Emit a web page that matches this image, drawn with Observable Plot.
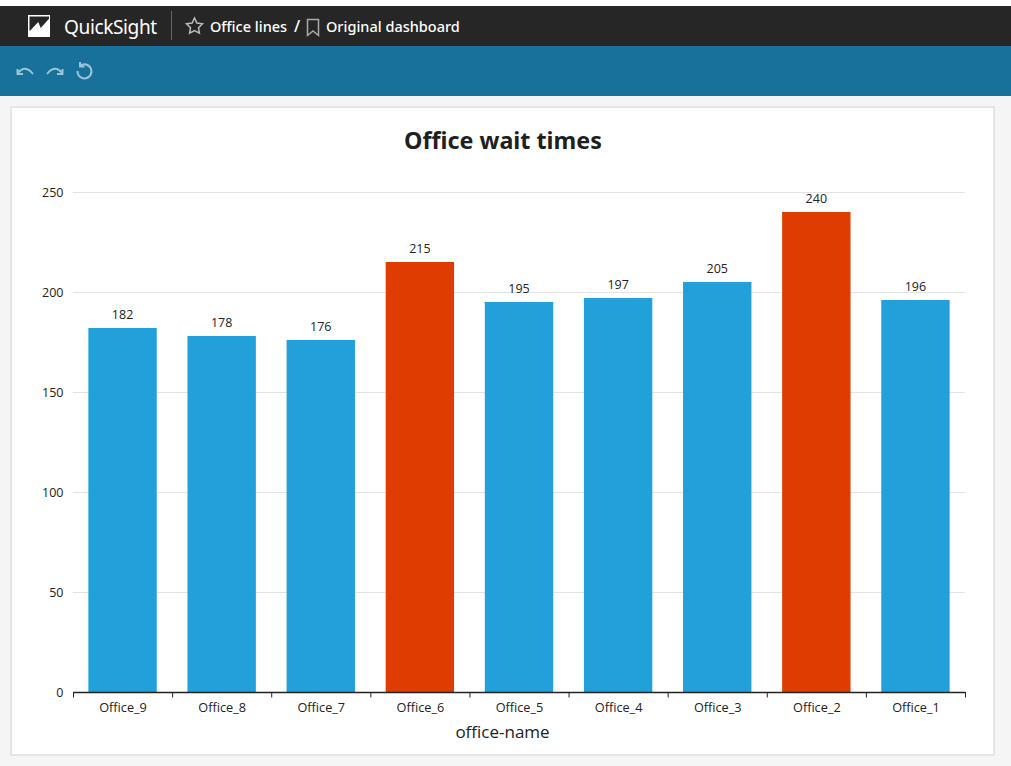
<!DOCTYPE html>
<html><head><meta charset="utf-8">
<script src="https://cdn.jsdelivr.net/npm/d3@7"></script>
<script src="https://cdn.jsdelivr.net/npm/@observablehq/plot@0.6"></script>
<style>
html,body{margin:0;padding:0;width:1011px;height:766px;overflow:hidden;background:#f5f5f5;font-family:"Open Sans",sans-serif}
.abs{position:absolute}
#top{left:0;top:0;width:1011px;height:6px;background:#fff}
#dark{left:0;top:6px;width:1011px;height:40px;background:#262626;color:#fff}
#teal{left:0;top:46px;width:1011px;height:50px;background:#18719b}
#card{left:10px;top:106px;width:981px;height:646px;background:#fff;border:2px solid #e5e5e5}
#title{left:0;top:124px;width:1006px;text-align:center;font:bold 23.3px/32px "Noto Sans",sans-serif;color:#1f1f1f}
#chart{left:0;top:160px}
.t{white-space:nowrap;position:absolute}
</style></head><body>
<div id="top" class="abs"></div>
<div id="dark" class="abs">
<svg class="abs" style="left:0;top:0" width="320" height="40" fill="none">
<path d="M28 9h22v22H28z" fill="#fff"/>
<path d="M29.500 10.500H49v2.200l-8.300 9.300-2.400-6-8.300 8.700h-.5z" fill="#262626"/>
<path d="M171.500 5v29" stroke="#666"/>
<path d="M194.500 12l2.400 5 5.600.8-4 3.900.9 5.500-4.900-2.600-4.900 2.600.9-5.500-4-3.900 5.600-.8z" stroke="#bbb" stroke-width="1.500"/>
<path d="M307.500 13.500h11v16l-5.500-4.500-5.500 4.500z" stroke="#aaa" stroke-width="1.500"/>
</svg>
<span class="t" style="left:64px;top:7px;font:19.100px/28px 'Noto Sans',sans-serif;letter-spacing:-.4px">QuickSight</span>
<span class="t" style="left:210px;top:9px;font:14.500px/22px 'Noto Sans',sans-serif;font-weight:500">Office lines</span>
<span class="t" style="left:294px;top:9px;font:16px/22px 'Noto Sans',sans-serif;font-weight:500">/</span>
<span class="t" style="left:326px;top:9px;font:14.500px/22px 'Noto Sans',sans-serif;font-weight:500">Original dashboard</span>
</div>
<div id="teal" class="abs">
<svg class="abs" style="left:0;top:0" width="110" height="50" fill="none" stroke="#9cc3d6" stroke-width="2">
<path d="M18 27Q25 18 33 28M17.500 23v5h5.500"/>
<path d="M47 28Q55 18 62 27M62.500 23v5H57"/>
<path d="M80 20a7 7 0 1 1-2.500 5M80 16v4.500h4.500"/>
</svg>
</div>
<div id="card" class="abs"></div>
<div id="title" class="abs">Office wait times</div>
<div id="chart" class="abs"></div>
<script>
const offices = ["Office_9","Office_8","Office_7","Office_6","Office_5","Office_4","Office_3","Office_2","Office_1"];
const waitTimes = [182,178,176,215,195,197,205,240,196];
const highlighted = ["Office_6","Office_2"];
const yTicks = [0,50,100,150,200,250];
const rows = offices.map((office,i)=>({office,wait:waitTimes[i]}));
const halfStep = 892/9/2;
const chart = Plot.plot({
  width:1011,height:595,marginLeft:73,marginRight:46,marginTop:32,marginBottom:63,
  style:{fontFamily:"'Open Sans',sans-serif",background:"transparent",overflow:"visible"},
  x:{domain:offices,paddingInner:0.31,paddingOuter:0.155,align:0.5,round:false,label:null},
  y:{domain:[0,250],label:null},
  marks:[
    Plot.gridY(yTicks,{stroke:"#e3e3e3",strokeOpacity:1,strokeWidth:1}),
    Plot.barY(rows,{x:"office",y:"wait",fill:d=>highlighted.includes(d.office)?"#de3c00":"#22a0da"}),
    Plot.ruleY([0],{stroke:"#222",strokeWidth:1.5}),
    Plot.ruleX(offices,{x:d=>d,dx:-halfStep,insetTop:500,insetBottom:-5.5,stroke:"#222"}),
    Plot.ruleX(offices.slice(-1),{x:d=>d,dx:halfStep,insetTop:500,insetBottom:-5.5,stroke:"#222"}),
    Plot.text(rows,{x:"office",y:"wait",text:"wait",dx:-0.5,dy:-14,fontSize:12.5,fill:"#222"}),
    Plot.axisY(yTicks,{tickSize:0,tickPadding:10,fontSize:12.5,color:"#222",label:null}),
    Plot.axisX(offices,{tickSize:0,tickPadding:10,fontSize:12.7,color:"#222",label:null}),
    Plot.text(["office-name"],{frameAnchor:"bottom",x:()=>offices[4],dx:-17,dy:45,fontSize:17,fill:"#222"})
  ]
});
document.getElementById("chart").append(chart);
</script>
</body></html>
